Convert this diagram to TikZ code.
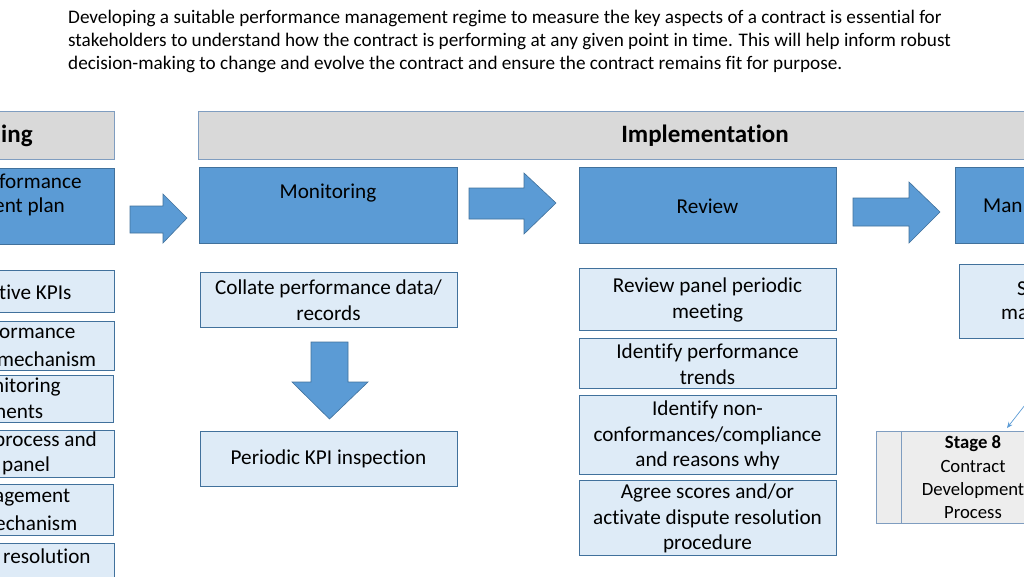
\documentclass[tikz,border=0pt]{standalone}
\usepackage{fontspec}
\setmainfont{Carlito}[Ligatures=NoCommon]
\usetikzlibrary{arrows.meta}
\definecolor{dblue}{HTML}{5B9BD5}
\definecolor{bord}{HTML}{41719C}
\definecolor{lblue}{HTML}{DEEBF7}
\definecolor{hgray}{HTML}{D9D9D9}
\definecolor{sgray}{HTML}{EDEDED}
\definecolor{hbord}{HTML}{7F9DC0}
\tikzset{
  bluebox/.style={draw=bord, fill=dblue, line width=0.8pt, inner sep=0pt},
  lightbox/.style={draw=bord, fill=lblue, line width=0.8pt, inner sep=0pt},
  hdrbox/.style={draw=hbord, fill=hgray, line width=0.8pt, inner sep=0pt},
  bigarrow/.style={draw=bord, fill=dblue, line width=0.6pt},
  txt/.style={font=\fontsize{21.2}{25.8}\selectfont, align=center, inner sep=0pt},
  frag/.style={font=\fontsize{21.2}{25.8}\selectfont, anchor=west, inner sep=0pt},
}
\begin{document}
\begin{tikzpicture}[x=1pt,y=-1pt]
\useasboundingbox (0,0) rectangle (1024,576);
\clip (0,0) rectangle (1024,576);
% intro text
\node[anchor=north west, inner sep=0pt, align=left, font=\fontsize{19.2}{23}\selectfont] (intro) at (68,10)
 {Developing a suitable performance management regime to measure the key aspects of a contract is essential for\\
  stakeholders to understand how the contract is performing at any given point in time. This will help inform robust\\
  decision-making to change and evolve the contract and ensure the contract remains fit for purpose.};
% headers
\node[hdrbox, minimum width=124pt, minimum height=48pt] (hdrL) at (52,135) {};
\node[font=\fontsize{25}{28}\selectfont\bfseries, anchor=west, inner sep=0pt] (hdrLt) at (1,136) {ing};
\node[hdrbox, minimum width=836pt, minimum height=48pt] (hdrI) at (616,135) {};
\node[font=\fontsize{25}{28}\selectfont\bfseries, inner sep=0pt] (hdrIt) at (705,136) {Implementation};
% top blue boxes
\node[bluebox, minimum width=124pt, minimum height=76pt] (planbox) at (52,206) {};
\node[frag] (plan1) at (-1,181) {formance};
\node[frag] (plan2) at (-6,207) {ent plan};
\node[bluebox, minimum width=258pt, minimum height=76pt] (mon) at (328,205) {};
\node[txt] (mont) at (328,193) {Monitoring};
\node[bluebox, minimum width=257pt, minimum height=76pt] (rev) at (707.5,205) {};
\node[txt] (revt) at (707.5,206) {Review};
\node[bluebox, minimum width=79pt, minimum height=76pt] (man) at (994.5,205) {};
\node[frag] (mant) at (983,206) {Man};
% big arrows
\draw[bigarrow] (130,206) -- (163,206) -- (163,194) -- (187,218) -- (163,243) -- (163,233) -- (130,233) -- cycle;
\draw[bigarrow] (469,188) -- (524,188) -- (524,173) -- (556,203) -- (524,234) -- (524,219) -- (469,219) -- cycle;
\draw[bigarrow] (853,198) -- (909,198) -- (909,182) -- (940,212) -- (909,243) -- (909,226) -- (853,226) -- cycle;
\draw[bigarrow] (311,342) -- (348,342) -- (348,382) -- (368,382) -- (329.5,419) -- (292,382) -- (311,382) -- cycle;
% left column
\node[lightbox, minimum width=124pt, minimum height=42pt] (kpi) at (52,291) {};
\node[frag] (kpit) at (-1,292) {tive KPIs};
\node[lightbox, minimum width=124pt, minimum height=49pt] (perf) at (52,345.5) {};
\node[frag] (perft1) at (-1,333) {ormance};
\node[frag] (perft2) at (-3,359) {mechanism};
\node[lightbox, minimum width=123pt, minimum height=47pt] (monit) at (51.5,398.5) {};
\node[frag] (monitt1) at (-7,387) {nitoring};
\node[frag] (monitt2) at (-5,412) {nents};
\node[lightbox, minimum width=124pt, minimum height=47pt] (proc) at (52,453.5) {};
\node[frag] (proct1) at (-6,441) {process and};
\node[frag] (proct2) at (2,466) {panel};
\node[lightbox, minimum width=123pt, minimum height=51pt] (mgmt) at (51.5,509.5) {};
\node[frag] (mgmtt1) at (-6,498) {agement};
\node[frag] (mgmtt2) at (-5,523) {echanism};
\node[lightbox, minimum width=124pt, minimum height=43pt] (res) at (52,564.5) {};
\node[frag] (rest) at (3,556) {resolution};
% monitoring column
\node[lightbox, minimum width=257pt, minimum height=55pt] (collate) at (328.5,299.5) {};
\node[txt] (collatet) at (328.5,300.5) {Collate performance data/\\records};
\node[lightbox, minimum width=257pt, minimum height=55pt] (periodic) at (328.5,458.5) {};
\node[txt] (periodict) at (328.5,459) {Periodic KPI inspection};
% review column
\node[lightbox, minimum width=257pt, minimum height=62pt] (rpm) at (707.5,299) {};
\node[txt] (rpmt) at (707.5,300) {Review panel periodic\\meeting};
\node[lightbox, minimum width=257pt, minimum height=50pt] (ipt) at (707.5,363) {};
\node[txt] (iptt) at (707.5,364) {Identify performance\\trends};
\node[lightbox, minimum width=257pt, minimum height=79pt] (inc) at (707.5,434.5) {};
\node[txt] (inct) at (707.5,435.5) {Identify non-\\conformances/compliance\\and reasons why};
\node[lightbox, minimum width=257pt, minimum height=75pt] (agree) at (707.5,517.5) {};
\node[txt] (agreet) at (707.5,518.5) {Agree scores and/or\\activate dispute resolution\\procedure};
% right column
\node[lightbox, minimum width=75pt, minimum height=74pt] (sma) at (996.5,301) {};
\node[frag] (smat1) at (1017,289) {S};
\node[frag] (smat2) at (1001,314) {ma};
\node[draw=hbord, fill=sgray, line width=0.8pt, inner sep=0pt, minimum width=180pt, minimum height=92pt] (stage) at (966,477) {};
\draw[hbord, line width=0.8pt] (901,431) -- (901,523);
\node[txt, font=\fontsize{18.7}{23.3}\selectfont] (staget) at (973,477.5) {\textbf{Stage 8}\\Contract\\Development\\Process};
\coordinate (sa) at (1032,396);
\coordinate (sb) at (1007,428);
\draw[dblue, line width=0.7pt, -{Stealth[length=6pt,width=5pt]}] (sa) -- (sb);
\end{tikzpicture}
\end{document}
